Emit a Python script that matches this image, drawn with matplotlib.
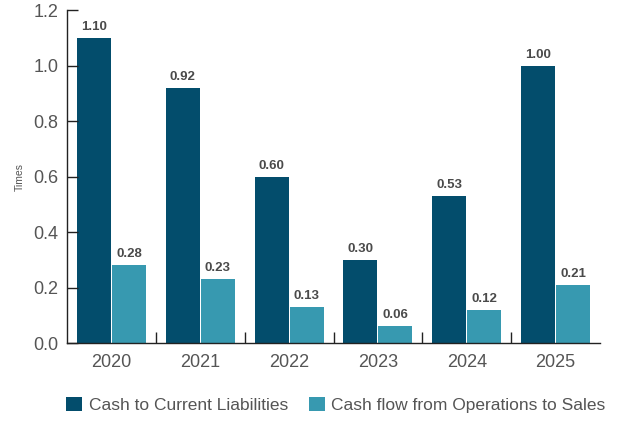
import matplotlib
matplotlib.use("Agg")
import matplotlib.pyplot as plt
import numpy as np

years = ["2020", "2021", "2022", "2023", "2024", "2025"]
cash_to_cl = [1.10, 0.92, 0.60, 0.30, 0.53, 1.00]
cfo_to_sales = [0.28, 0.23, 0.13, 0.06, 0.12, 0.21]
series_names = ["Cash to Current Liabilities", "Cash flow from Operations to Sales"]
yticks = [0.0, 0.2, 0.4, 0.6, 0.8, 1.0, 1.2]

dark = "#034d6c"
light = "#3799b0"
txt = "#555555"

plt.rcParams['font.family'] = ['Liberation Sans', 'DejaVu Sans']

fig = plt.figure(figsize=(6.18, 4.21), dpi=100)
ax = fig.add_axes([67/618, 1-343/421, 533/618, 333/421])

x = np.arange(len(years))
w = 0.383
off = 0.197
b1 = ax.bar(x - off, cash_to_cl, w, color=dark, label=series_names[0])
b2 = ax.bar(x + off, cfo_to_sales, w, color=light, label=series_names[1])

for bars, vals in ((b1, cash_to_cl), (b2, cfo_to_sales)):
    for r, v in zip(bars, vals):
        ax.annotate(f"{v:.2f}", (r.get_x() + r.get_width()/2, v), xytext=(0, 3.5),
                    textcoords="offset points", ha="center", va="bottom",
                    fontsize=9.5, fontweight="bold", color="#4a4a4a")

ax.set_xlim(-0.5, 5.5)
ax.set_ylim(0, 1.2)
ax.set_yticks(yticks)
ax.set_yticklabels([f"{t:.1f}" for t in yticks])
ax.set_xticks(x)
ax.set_xticklabels(years)
ax.set_xticks(np.arange(0.5, 5.0, 1.0), minor=True)
ax.tick_params(axis="x", which="major", length=0, pad=8, labelsize=13, labelcolor=txt)
ax.tick_params(axis="x", which="minor", direction="in", length=8, width=1, color="#222222")
ax.tick_params(axis="y", direction="in", length=8, width=1, color="#222222", pad=6,
               labelsize=13, labelcolor=txt)
for s in ("top", "right"):
    ax.spines[s].set_visible(False)
for s in ("left", "bottom"):
    ax.spines[s].set_color("#222222")
    ax.spines[s].set_linewidth(1)

ax.set_ylabel("Times", fontsize=7.5, color=txt, labelpad=6)

fig.legend(handles=[b1, b2], labels=series_names, loc="center", bbox_to_anchor=(336/618, 1-405/421),
           ncol=2, frameon=False, fontsize=12.5, labelcolor=txt, handlelength=0.9,
           handleheight=0.9, handletextpad=0.4, columnspacing=1.2)

fig.savefig("out.png", dpi=100)
